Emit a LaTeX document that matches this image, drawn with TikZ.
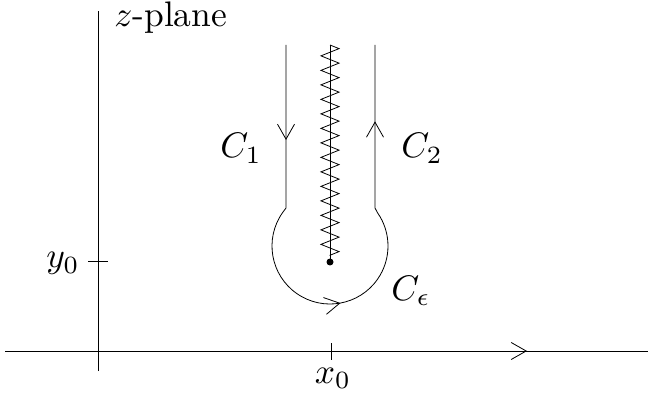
\documentclass[tikz,border=0pt]{standalone}
\usetikzlibrary{arrows.meta,decorations.markings,decorations.pathmorphing,calc}
\newcommand{\bigtxt}[1]{\scalebox{3.55}{\normalsize #1}}
\begin{document}
\begin{tikzpicture}[x=1pt,y=1pt,line width=0.8pt,
  lbl/.style={inner sep=0pt},
  barb/.tip={Straight Barb[length=15pt,width=17pt,line width=0.8pt]}]
\useasboundingbox (0,0) rectangle (648,402);
% axes
\coordinate (xl) at (5,51);
\coordinate (xr) at (648,51);
\coordinate (yb) at (98,31);
\coordinate (yt) at (98,391);
\draw[postaction={decorate},decoration={markings,mark=at position 522pt with {\arrow{barb}}}] (xl) -- (xr);
\draw (yb) -- (yt);
% ticks
\coordinate (ty1) at (88,141);
\coordinate (ty2) at (108,141);
\draw (ty1) -- (ty2);
\coordinate (tx1) at (331,59);
\coordinate (tx2) at (331,42);
\draw (tx1) -- (tx2);
% branch cut
\coordinate (cuttop) at (330,357);
\coordinate (cutend) at (330,140);
\draw (cuttop) -- (cutend);
\draw[decorate,decoration={zigzag,segment length=14.5pt,amplitude=9pt}] (cuttop) -- (330,146);
\node[circle,fill,inner sep=0pt,minimum size=7pt] (dot) at (cutend) {};
% contour
\coordinate (c) at (330,156);
\coordinate (lt) at (286,357);
\coordinate (lb) at (286,194);
\coordinate (rb) at (375,194);
\coordinate (rt) at (375,357);
\draw[postaction={decorate},decoration={markings,
   mark=at position 95pt with {\arrow{barb}},
   mark=at position 306pt with {\arrow{barb}},
   mark=at position 514pt with {\arrow{barb}}}]
  (lt) -- (lb) -- ($(c)+(145:58)$) arc[start angle=145,end angle=395,radius=58] -- (rb) -- (rt);
% labels
\node[lbl,anchor=base west] (zp) at (114,375) {\bigtxt{$z$-plane}};
\node[lbl,anchor=base west] (c1) at (220,244) {\bigtxt{$C_1$}};
\node[lbl,anchor=base west] (c2) at (401,244) {\bigtxt{$C_2$}};
\node[lbl,anchor=base west] (ce) at (391,102) {\bigtxt{$C_\epsilon$}};
\node[lbl,anchor=base] (x0) at (333,19) {\bigtxt{$x_0$}};
\node[lbl,anchor=base east] (y0) at (80,134) {\bigtxt{$y_0$}};
\end{tikzpicture}
\end{document}
